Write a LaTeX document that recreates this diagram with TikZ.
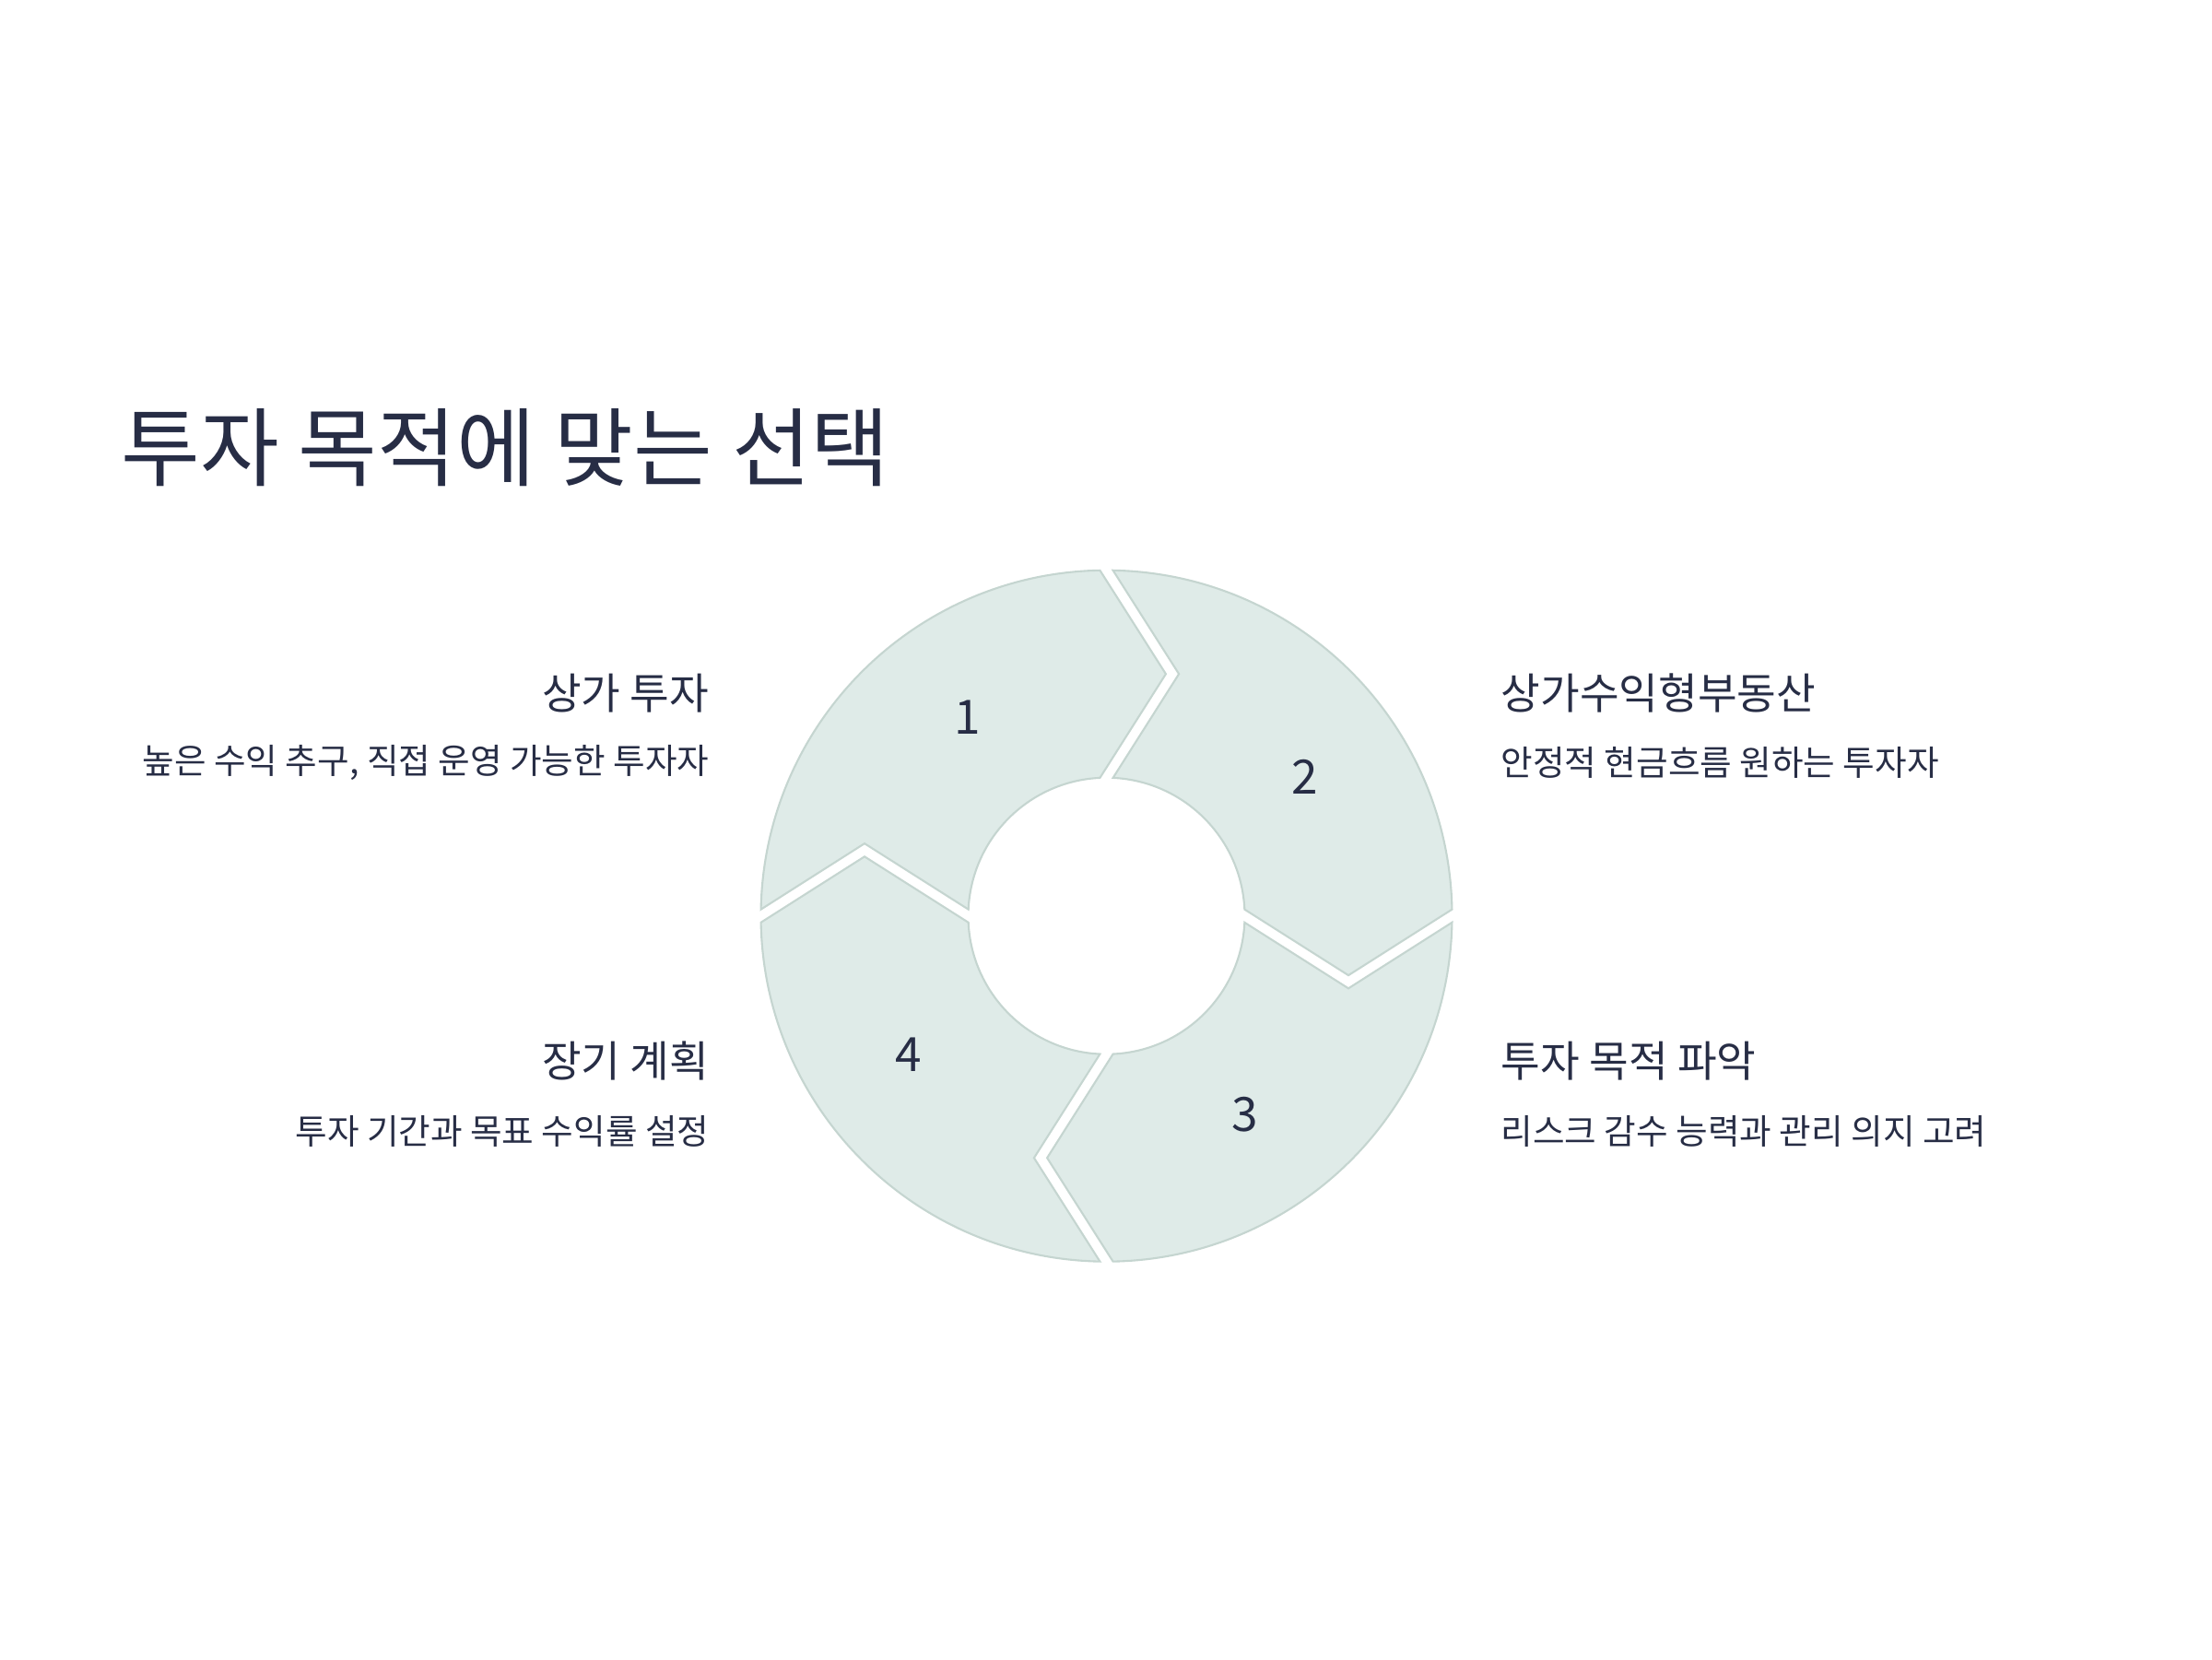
\documentclass[tikz,border=0pt]{standalone}
\usepackage{fontspec}
\setmainfont{Noto Sans CJK KR}
\usetikzlibrary{positioning, calc}
\definecolor{ink}{HTML}{272D45}
\definecolor{segfill}{HTML}{DFEBE8}
\definecolor{segline}{HTML}{C5D5D0}

\begin{document}
\begin{tikzpicture}[
  seg/.style={fill=segfill, draw=segline, line width=0.6pt, line join=miter},
  num/.style={text=ink, font=\fontsize{14.6}{17}\selectfont, inner sep=0pt},
  heading/.style={text=ink, font=\fontsize{13.2}{15}\selectfont, inner sep=0pt},
  headL/.style={heading, anchor=east},
  headR/.style={heading, anchor=west},
  desc/.style={text=ink, font=\fontsize{10.7}{13}\selectfont, inner sep=0pt},
  title/.style={text=ink, font=\fontsize{26.5}{32}\selectfont, inner sep=0pt, anchor=west}
]
\useasboundingbox (0,0) rectangle (24,-18);

% title
\node[title] (ttl) at (1.31,-4.86) {투자 목적에 맞는 선택};

% ring of four arrows
\coordinate (c) at (12.005,-9.937);
\def\Ro{3.75} \def\Ri{1.5} \def\Rm{2.625} \def\tipu{0.715} \def\gap{0.071}
\pgfmathsetmacro{\dOut}{asin(\gap/\Ro)}
\pgfmathsetmacro{\dIn}{asin(\gap/\Ri)}
\foreach \s/\n in {180/1, 90/2, 0/3, 270/4}{
  \pgfmathsetmacro{\e}{\s-90}
  \draw[seg] ($(c)+(\s-\dOut:\Ro)$)
    arc[start angle=\s-\dOut, end angle=\e+\dOut, radius=\Ro]
    -- ($(c)+(\e:\Rm)+(\e-90:\tipu-\gap)$)
    -- ($(c)+(\e+\dIn:\Ri)$)
    arc[start angle=\e+\dIn, end angle=\s-\dIn, radius=\Ri]
    -- ($(c)+(\s:\Rm)+(\s-90:\tipu+\gap)$)
    -- cycle;
  \node[num] (n\n) at ($(c)+(\s-55:\Rm)$) {\n};
}

% side texts
\node[headL] (h1) at (7.70,-7.52) {상가 투자};
\node[desc, below=0.75cm of h1.east, anchor=east] (d1) {높은 수익 추구, 직접 운영 가능한 투자자};
\node[headR] (h2) at (16.28,-7.52) {상가수익형부동산};
\node[desc, below=0.75cm of h2.west, anchor=west] (d2) {안정적 현금흐름 원하는 투자자};
\node[headR] (h3) at (16.28,-11.51) {투자 목적 파악};
\node[desc, below=0.76cm of h3.west, anchor=west] (d3) {리스크 감수 능력과 관리 의지 고려};
\node[headL] (h4) at (7.70,-11.51) {장기 계획};
\node[desc, below=0.76cm of h4.east, anchor=east] (d4) {투자 기간과 목표 수익률 설정};

\end{tikzpicture}
\end{document}
